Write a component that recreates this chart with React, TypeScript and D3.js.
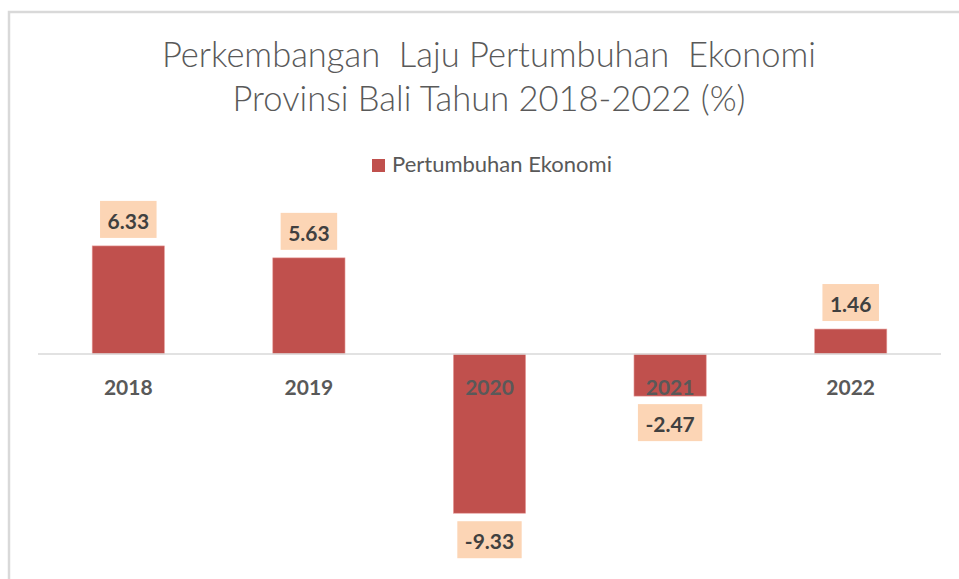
import React from "react";
import * as d3 from "d3";

const years = ["2018", "2019", "2020", "2021", "2022"];
const growth = [6.33, 5.63, -9.33, -2.47, 1.46];
const valueLabels = ["6.33", "5.63", "-9.33", "-2.47", "1.46"];
const titleLines = ["Perkembangan  Laju Pertumbuhan  Ekonomi", "Provinsi Bali Tahun 2018-2022 (%)"];
const seriesName = "Pertumbuhan Ekonomi";

const W = 959;
const H = 579;
const FONT = "Lato, 'Open Sans', sans-serif";

function measure(text: string, font: string): number {
  if (typeof document === "undefined") return text.length * 10;
  const c = document.createElement("canvas");
  const ctx = c.getContext("2d");
  if (!ctx) return text.length * 10;
  ctx.font = font;
  return ctx.measureText(text).width;
}

export default function App() {
  const x = d3.scaleBand<string>().domain(years).range([38, 941]).paddingInner(0.6).paddingOuter(0.3);
  const y = d3.scaleLinear().domain([-12, 8]).range([558.8, 217.4]);
  const zero = y(0);
  const labelFont = `bold 21px Lato`;
  const boxH = 37;
  const gap = 8;

  return (
    <svg width={W} height={H} style={{ position: "absolute", left: 0, top: 0, background: "#fff" }}>
      <rect x={9} y={12} width={1000} height={700} fill="#fff" stroke="#d9d9d9" strokeWidth={2.5} />
      {titleLines.map((t, i) => (
        <text key={i} x={489} y={67 + i * 44} textAnchor="middle" fill="#595959"
          style={{ fontFamily: FONT, fontSize: 34.5, fontWeight: 300, whiteSpace: "pre" }}>{t}</text>
      ))}
      <rect x={372} y={159} width={13} height={13} fill="#C0504D" />
      <text x={392} y={172} fill="#595959" style={{ fontFamily: FONT, fontSize: 22 }}>{seriesName}</text>
      {years.map((yr, i) => {
        const v = growth[i];
        const bx = x(yr)!;
        const bw = x.bandwidth();
        const top = Math.min(y(v), zero);
        const h = Math.abs(y(v) - zero);
        return (
          <rect key={yr} x={bx} y={top} width={bw} height={h} fill="#C0504D" stroke="#e8a09e" strokeWidth={0.6} />
        );
      })}
      <line x1={38} x2={941} y1={zero} y2={zero} stroke="#d9d9d9" strokeWidth={1.5} />
      {years.map((yr) => (
        <text key={yr} x={x(yr)! + x.bandwidth() / 2} y={386} textAnchor="middle" dominantBaseline="central"
          fill="#595959" style={{ fontFamily: FONT, fontSize: 21, fontWeight: 700 }}>{yr}</text>
      ))}
      {years.map((yr, i) => {
        const v = growth[i];
        const cx = x(yr)! + x.bandwidth() / 2;
        const tw = measure(valueLabels[i], labelFont);
        const bw = tw + 15;
        const by = v >= 0 ? y(v) - gap - boxH : y(v) + gap;
        return (
          <g key={yr}>
            <rect x={cx - bw / 2} y={by} width={bw} height={boxH} fill="#FCD5B5" />
            <text x={cx} y={by + boxH / 2 + 1} textAnchor="middle" dominantBaseline="central" fill="#404040"
              style={{ fontFamily: FONT, fontSize: 21, fontWeight: 700 }}>{valueLabels[i]}</text>
          </g>
        );
      })}
    </svg>
  );
}
